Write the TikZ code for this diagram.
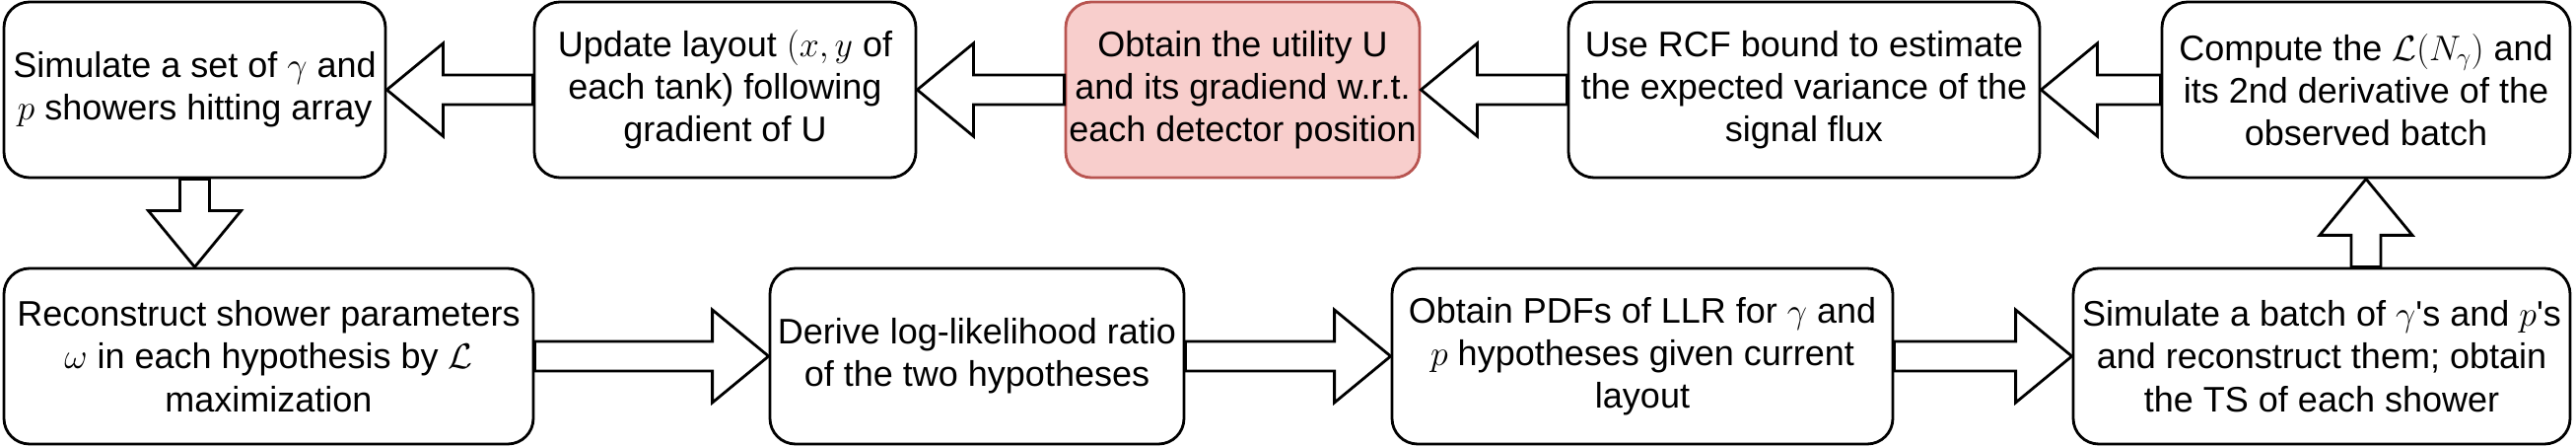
\RequirePackage{fix-cm}
\documentclass[tikz,border=0pt]{standalone}
\usepackage{fontspec}
\setmainfont{Liberation Sans}
\usetikzlibrary{calc}

\definecolor{boxred}{HTML}{B85450}
\definecolor{boxfill}{HTML}{F8CECC}

\tikzset{
    stepbox/.style = {draw, line width=2.8pt, rounded corners=26pt, align=center,
        minimum height=178pt, inner sep=0pt, font=\fontsize{36}{43.2}\selectfont},
    hotbox/.style = {stepbox, draw=boxred, fill=boxfill},
    fatarrow/.style = {draw, line width=2.8pt, fill=white, line join=miter}
}

% hollow block arrow from #1 to #2
\newcommand{\flowarrow}[2]{%
    \draw [fatarrow] let \p1 = (#1), \p2 = (#2),
        \n1 = {atan2(\y2-\y1, \x2-\x1)}, \n2 = {veclen(\x2-\x1, \y2-\y1)} in
        [shift={(\p1)}, rotate=\n1]
        (0, -15) -- (\n2-57, -15) -- (\n2-57, -47) -- (\n2, 0)
        -- (\n2-57, 47) -- (\n2-57, 15) -- (0, 15) -- cycle;}

\begin{document}
\begin{tikzpicture}[x=1pt, y=1pt]
    \useasboundingbox (0, 0) rectangle (2613, 453);
    % top row
    \node [stepbox, minimum width=387pt] (sim) at (197.5, 362)
        {Simulate a set of $\gamma$ and\\$p$ showers hitting array};
    \node [stepbox, minimum width=387pt] (update) at (735.5, 362)
        {Update layout $(x, y$ of\\each tank) following\\gradient of U};
    \node [hotbox, minimum width=359pt] (util) at (1260.5, 362)
        {Obtain the utility U\\and its gradiend w.r.t.\\each detector position};
    \node [stepbox, minimum width=478pt] (rcf) at (1830, 362)
        {Use RCF bound to estimate\\the expected variance of the\\signal flux};
    \node [stepbox, minimum width=414pt] (compute) at (2400, 362)
        {Compute the $\mathcal{L}(N_\gamma)$ and\\its 2nd derivative of the\\observed batch};
    % bottom row
    \node [stepbox, minimum width=537pt] (reco) at (272.5, 92)
        {Reconstruct shower parameters\\$\omega$ in each hypothesis by $\mathcal{L}$\\maximization};
    \node [stepbox, minimum width=420pt] (llr) at (991, 92)
        {Derive log-likelihood ratio\\of the two hypotheses};
    \node [stepbox, minimum width=508pt] (pdfs) at (1666, 92)
        {Obtain PDFs of LLR for $\gamma$ and\\$p$ hypotheses given current\\layout};
    \node [stepbox, minimum width=504pt] (batch) at (2355, 92)
        {Simulate a batch of $\gamma$\textquotesingle s and $p$\textquotesingle s\\and reconstruct them; obtain\\the TS of each shower};
    % connectors
    \flowarrow{sim.south}{sim.south |- reco.north}
    \flowarrow{reco.east}{llr.west}
    \flowarrow{llr.east}{pdfs.west}
    \flowarrow{pdfs.east}{batch.west}
    \flowarrow{compute.south |- batch.north}{compute.south}
    \flowarrow{compute.west}{rcf.east}
    \flowarrow{rcf.west}{util.east}
    \flowarrow{util.west}{update.east}
    \flowarrow{update.west}{sim.east}
\end{tikzpicture}
\end{document}
